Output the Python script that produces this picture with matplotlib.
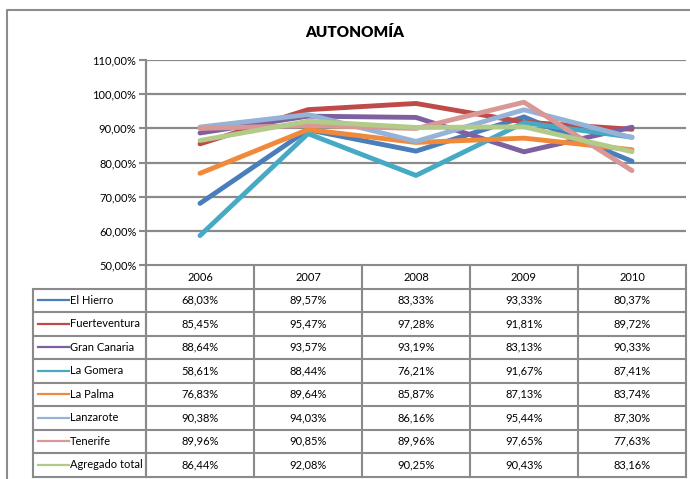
import matplotlib
matplotlib.use('Agg')
from matplotlib import pyplot as plt

plt.rcParams['font.family'] = ['Lato', 'DejaVu Sans']

years  = ['2006', '2007', '2008', '2009', '2010']
series = ['El Hierro', 'Fuerteventura', 'Gran Canaria', 'La Gomera',
          'La Palma', 'Lanzarote', 'Tenerife', 'Agregado total']
el_hierro     = [68.03, 89.57, 83.33, 93.33, 80.37]
fuerteventura = [85.45, 95.47, 97.28, 91.81, 89.72]
gran_canaria  = [88.64, 93.57, 93.19, 83.13, 90.33]
la_gomera     = [58.61, 88.44, 76.21, 91.67, 87.41]
la_palma      = [76.83, 89.64, 85.87, 87.13, 83.74]
lanzarote     = [90.38, 94.03, 86.16, 95.44, 87.30]
tenerife      = [89.96, 90.85, 89.96, 97.65, 77.63]
agregado      = [86.44, 92.08, 90.25, 90.43, 83.16]
values = [el_hierro, fuerteventura, gran_canaria, la_gomera,
          la_palma, lanzarote, tenerife, agregado]
colors = ['#4a7ebb', '#be4b48', '#7d60a0', '#46aac5',
          '#f08a3a', '#95b3d7', '#d99795', '#b3cb89']
yticks = [50, 60, 70, 80, 90, 100, 110]

W, H = 690, 479
grid = '#8a8a8a'

fig = plt.figure(figsize=(W/100, H/100), dpi=100)

# pixel overlay for frame and data table
ov = fig.add_axes([0, 0, 1, 1])
ov.set_xlim(0, W)
ov.set_ylim(H, 0)
ov.axis('off')
ov.plot([7, 7, 700], [490, 10, 10], color='#8c8c8c', lw=1.5)
ov.text(355, 32, 'AUTONOMÍA', ha='center', va='center',
        fontsize=11, fontweight='heavy')

# plot area
x0, x1, ytop, ybot = 146, 686, 60, 265
ax = fig.add_axes([x0/W, 1-ybot/H, (x1-x0)/W, (ybot-ytop)/H])
ax.set_facecolor('none')
for s in ['top', 'right', 'bottom']:
    ax.spines[s].set_visible(False)
ax.spines['left'].set_color(grid)
ax.spines['left'].set_linewidth(1.5)
ax.set_xlim(-0.5, len(years)-0.5)
ax.set_ylim(50, 110)
ax.set_yticks(yticks)
ax.set_yticklabels(['%d,00%%' % v for v in yticks], fontsize=8)
ax.tick_params(axis='y', length=5, width=1.5, color=grid, pad=2)
ax.set_xticks([])
for v in yticks[1:]:
    ax.axhline(v, color=grid, lw=1.6, zorder=1)
for vals, c in zip(values, colors):
    ax.plot(range(len(years)), vals, color=c, lw=3.5,
            solid_joinstyle='round', solid_capstyle='round', zorder=3)

# data table
colw = (x1 - x0) / len(years)
rh = 23.5
hy0 = ybot
hy1 = 288.5
ly0 = 33
ov.plot([x0, x0], [ytop, hy1 + rh*len(series)], color=grid, lw=1.5)
for i, yr in enumerate(years):
    cx = x0 + colw*(i + 0.5)
    ov.text(cx, (hy0+hy1)/2 + 1, yr, ha='center', va='center', fontsize=8)
for k in range(len(years) + 1):
    xx = x0 + colw*k
    ov.plot([xx, xx], [hy0, hy1 + rh*len(series)], color=grid, lw=1.5)
ov.plot([x0, x1], [hy0, hy0], color=grid, lw=1.5)
for r in range(len(series) + 1):
    yy = hy1 + rh*r
    ov.plot([ly0, x1], [yy, yy], color=grid, lw=1.5)
ov.plot([ly0, ly0], [hy1, hy1 + rh*len(series)], color=grid, lw=1.5)
for r, (name, vals, c) in enumerate(zip(series, values, colors)):
    cy = hy1 + rh*(r + 0.5)
    ov.plot([38, 69], [cy, cy], color=c, lw=1.6)
    ov.text(70, cy, name, ha='left', va='center', fontsize=8)
    for i, v in enumerate(vals):
        cx = x0 + colw*(i + 0.5)
        ov.text(cx, cy, ('%.2f%%' % v).replace('.', ','),
                ha='center', va='center', fontsize=8)

fig.savefig('out.png', dpi=100)
